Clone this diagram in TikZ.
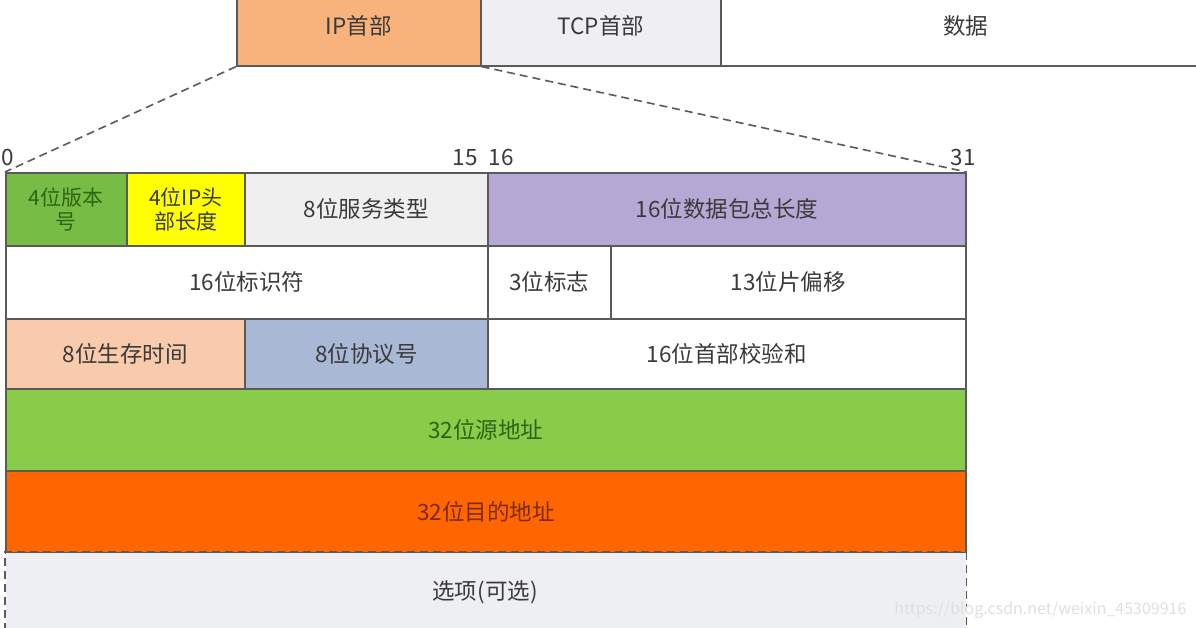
\documentclass[tikz,border=0pt]{standalone}
\usepackage{fontspec}
\setmainfont{Noto Sans CJK SC}
\definecolor{edge}{HTML}{5A5A5A}
\definecolor{ipor}{HTML}{F8B27C}
\definecolor{tcpg}{HTML}{EFEEF3}
\definecolor{vgreen}{HTML}{77BD45}
\definecolor{hyel}{HTML}{FFFF00}
\definecolor{tosg}{HTML}{EFEFEF}
\definecolor{lenp}{HTML}{B6A8D4}
\definecolor{ttlp}{HTML}{F8CBAD}
\definecolor{protb}{HTML}{A9B8D4}
\definecolor{srcg}{HTML}{88CC4A}
\definecolor{dsto}{HTML}{FF6600}
\definecolor{optg}{HTML}{EEEFF3}
\definecolor{txt}{HTML}{3A3A3A}
\definecolor{dgreen}{HTML}{2E6414}
\definecolor{dred}{HTML}{7A2A08}
\begin{document}
\begin{tikzpicture}[x=1pt,y=-1pt,
  cell/.style={draw=edge,line width=1.6pt,anchor=north west,inner sep=0pt,
    font=\fontsize{22.5}{25}\selectfont,text=txt,align=center},
  twoline/.style={font=\fontsize{21}{24}\selectfont},
  bitlbl/.style={font=\fontsize{22.5}{25}\selectfont,text=txt,inner sep=0pt},
  zoomline/.style={draw=edge,line width=1.6pt,dashed,dash pattern=on 8pt off 5pt}]
\useasboundingbox (0,0) rectangle (1196,628);
\fill[white] (0,0) rectangle (1196,628);
% top row
\node[cell,fill=ipor,minimum width=244pt,minimum height=80pt] (ip) at (236,-15) {IP首部};
\node[cell,fill=tcpg,minimum width=240pt,minimum height=80pt] (tcp) at (480,-15) {TCP首部};
\node[cell,fill=white,minimum width=490pt,minimum height=80pt] (data) at (720,-15) {数据};
% row 1
\node[cell,twoline,fill=vgreen,text=dgreen,minimum width=121pt,minimum height=73pt] (ver) at (5,172) {4位版本\\号};
\node[cell,twoline,fill=hyel,minimum width=118pt,minimum height=73pt] (hlen) at (126,172) {4位IP头\\部长度};
\node[cell,fill=tosg,minimum width=243pt,minimum height=73pt] (tos) at (244,172) {8位服务类型};
\node[cell,fill=lenp,minimum width=478pt,minimum height=73pt] (len) at (487,172) {16位数据包总长度};
% row 2
\node[cell,fill=white,minimum width=482pt,minimum height=73pt] (id) at (5,245) {16位标识符};
\node[cell,fill=white,minimum width=123pt,minimum height=73pt] (flag) at (487,245) {3位标志};
\node[cell,fill=white,minimum width=355pt,minimum height=73pt] (frag) at (610,245) {13位片偏移};
% row 3
\node[cell,fill=ttlp,minimum width=239pt,minimum height=70pt] (ttl) at (5,318) {8位生存时间};
\node[cell,fill=protb,minimum width=243pt,minimum height=70pt] (prot) at (244,318) {8位协议号};
\node[cell,fill=white,minimum width=478pt,minimum height=70pt] (csum) at (487,318) {16位首部校验和};
% row 4,5
\node[cell,fill=srcg,text=dgreen,minimum width=960pt,minimum height=82pt] (src) at (5,388) {32位源地址};
\node[cell,fill=dsto,text=dred,minimum width=960pt,minimum height=82pt] (dst) at (5,470) {32位目的地址};
% options
\node[cell,draw=none,fill=optg,minimum width=960pt,minimum height=90pt] (opt) at (5,552) {};
\node[bitlbl] (opttext) at (485,592) {选项(可选)};
\draw[zoomline] (opt.south west) -- (opt.north west) -- (opt.north east) -- (opt.south east);
% bit labels
\node[bitlbl,anchor=south west] (b0) at (1,166) {0};
\node[bitlbl,anchor=south] (b15) at (465,166) {15};
\node[bitlbl,anchor=south] (b16) at (501,166) {16};
\node[bitlbl,anchor=south] (b31) at (963,166) {31};
% zoom lines
\draw[zoomline] (ip.south west) -- (ver.north west);
\draw[zoomline] (ip.south east) -- (len.north east);
% watermark
\node[text=black!12,font=\fontsize{16}{18}\selectfont,anchor=east] (wm) at (1190,610) {https://blog.csdn.net/weixin\_45309916};
\end{tikzpicture}
\end{document}
